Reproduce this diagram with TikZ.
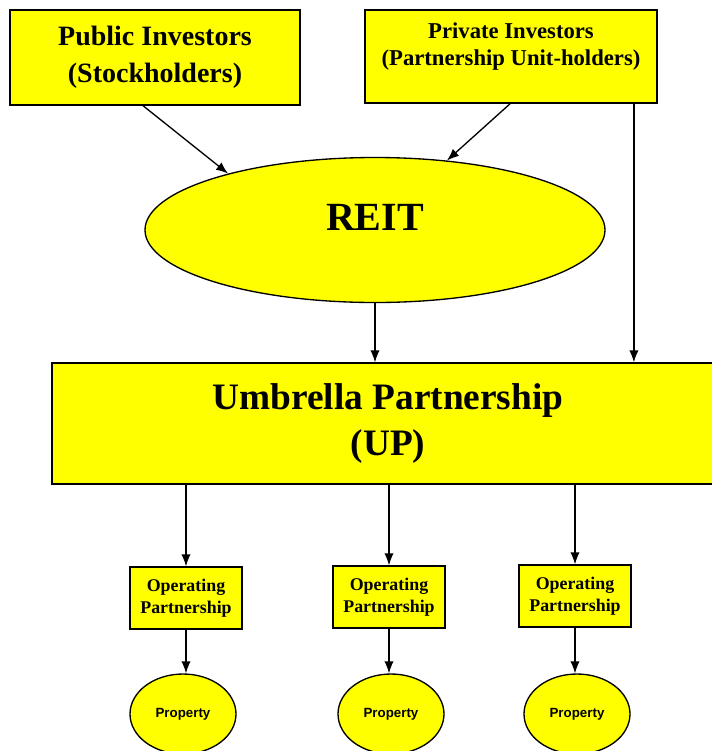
\documentclass[tikz,border=0pt]{standalone}
\usepackage{fontspec}
\setmainfont{Liberation Serif}
\newfontfamily\propfont{Liberation Sans}
\usepackage{tikz}
\usetikzlibrary{arrows.meta}
\usetikzlibrary{shapes.geometric}
\usetikzlibrary{positioning}
\definecolor{boxyellow}{RGB}{255,255,0}
\tikzset{>={Latex[length=9pt,width=7pt]}}
\tikzstyle{yb} = [rectangle, draw=black, fill=boxyellow, line width=1pt, align=center, inner sep=0pt]
\tikzstyle{ye} = [ellipse, draw=black, fill=boxyellow, line width=1pt, inner sep=0pt, align=center]

\begin{document}
\begin{tikzpicture}[x=0.75pt, y=-0.75pt]
\useasboundingbox (0,0) rectangle (712,751);
% investors
\node [yb, minimum width=217.5pt, minimum height=71.25pt, font=\bfseries\fontsize{21}{28}\selectfont] (PI) at (155,57.5) {Public Investors\\(Stockholders)};
\node [yb, minimum width=219pt, minimum height=69.75pt, text depth=19pt, font=\bfseries\fontsize{17}{20}\selectfont] (PR) at (511,56.5) {Private Investors\\(Partnership Unit-holders)};
\node [ye, minimum width=345pt, minimum height=108.75pt, text height=20pt, text depth=20pt, font=\bfseries\fontsize{30}{34}\selectfont] (R) at (375,230) {REIT};
% umbrella
\node [yb, minimum width=504pt, minimum height=90.75pt, font=\bfseries\fontsize{28}{34}\selectfont] (UP) at (388,423.5) {Umbrella Partnership\\(UP)};
% operating partnerships
\node [yb, minimum width=84pt, minimum height=46.5pt, font=\bfseries\fontsize{13.4}{16.5}\selectfont] (O1) at (186,598) {Operating\\Partnership};
\node [yb, minimum width=84pt, minimum height=46.5pt, font=\bfseries\fontsize{13.4}{16.5}\selectfont] (O2) at (389,597) {Operating\\Partnership};
\node [yb, minimum width=84pt, minimum height=46.5pt, font=\bfseries\fontsize{13.4}{16.5}\selectfont] (O3) at (575,596) {Operating\\Partnership};
% properties
\node [ye, minimum width=79.5pt, minimum height=60pt, font=\propfont\bfseries\fontsize{10}{12}\selectfont] (P1) at (183,714) {Property};
\node [ye, minimum width=79.5pt, minimum height=60pt, font=\propfont\bfseries\fontsize{10}{12}\selectfont] (P2) at (391,714) {Property};
\node [ye, minimum width=79.5pt, minimum height=60pt, font=\propfont\bfseries\fontsize{10}{12}\selectfont] (P3) at (577,714) {Property};

\draw [->, line width=1pt] (PI.-104) to (R.159);
\draw [->, line width=1pt] (PR.-91) to (R.44);
\draw [->, line width=1pt] (PR.-21) to (PR.-21 |- UP.north);
\draw [->, line width=1pt] (R.south) to (R.south |- UP.north);
\draw [->, line width=1pt] (O1.north |- UP.south) to (O1.north);
\draw [->, line width=1pt] (O2.north |- UP.south) to (O2.north);
\draw [->, line width=1pt] (O3.north |- UP.south) to (O3.north);
\draw [->, line width=1pt] (O1.south) to (O1.south |- P1.north);
\draw [->, line width=1pt] (O2.south) to (O2.south |- P2.north);
\draw [->, line width=1pt] (O3.south) to (O3.south |- P3.north);
\end{tikzpicture}
\end{document}
